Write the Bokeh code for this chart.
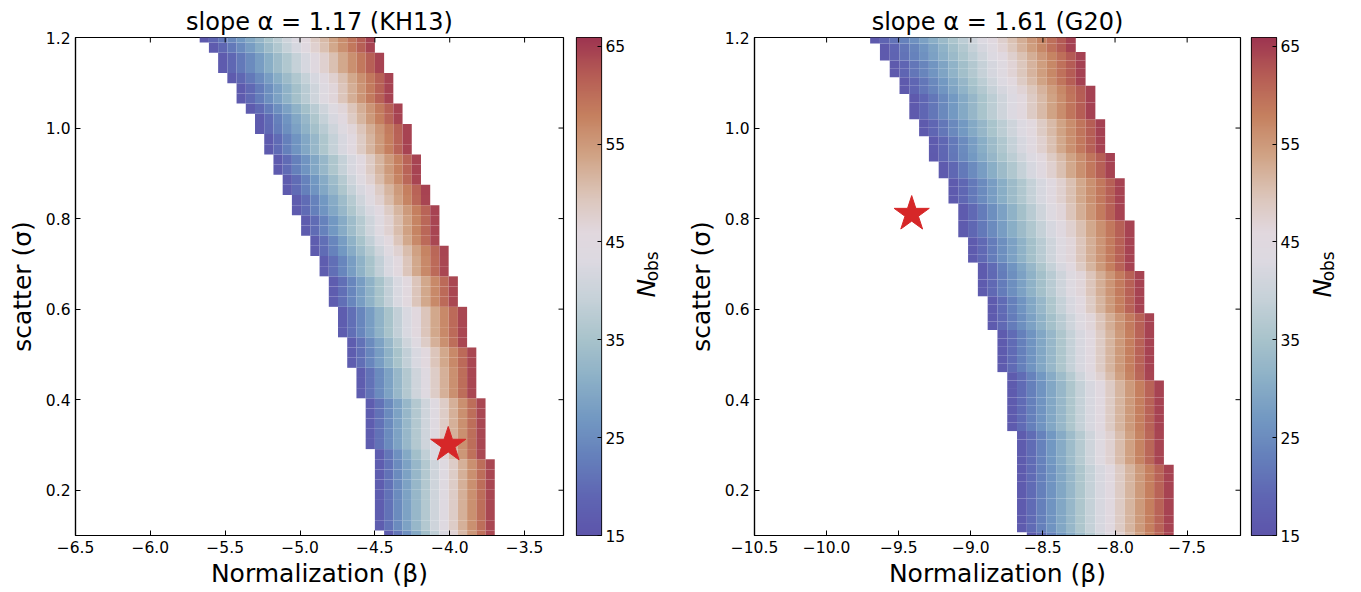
import numpy as np
from bokeh.plotting import figure
from bokeh.layouts import row
from bokeh.models import (Range1d, FixedTicker, LinearColorMapper,
                          ColumnDataSource, CustomJSTickFormatter)
from bokeh.transform import transform
from bokeh.core.properties import value
from bokeh.embed import file_html
from bokeh.resources import INLINE

# ---------------- data ----------------
N_MIN, N_MAX = 15.0, 65.9
cbar_ticks = [15, 25, 35, 45, 55, 65]
y_ticks = [0.2, 0.4, 0.6, 0.8, 1.0, 1.2]
y_lim = (0.1, 1.2)

# colormap anchor colours (N_obs value, colour)
cmap_values = [15, 19, 23, 27, 31, 35, 39, 43, 46, 50, 54, 58, 62, 65.9]
cmap_colors = ["#5d55ab", "#5f66b3", "#6580bb", "#7399c2", "#8cb0c7", "#a8c3cb",
               "#c5d1d8", "#dcd9e1", "#e1d8de", "#dbc3b6", "#d0a284", "#c5805f",
               "#b65d55", "#9e3550"]

# ---- panel 1: slope 1.17 (KH13) ----
kh_title = "slope α = 1.17 (KH13)"
kh_xlim = (-6.5, -3.24)
kh_xticks = [-6.5, -6.0, -5.5, -5.0, -4.5, -4.0, -3.5]
kh_beta_origin = -4.5      # a column boundary
kh_beta_step = 0.0616      # column width
kh_sigma_first = 0.1       # centre of lowest row
kh_sigma_step = 1.1 / 49   # row height
# first / one-past-last column of the filled band for each row (bottom -> top)
kh_lo = [1, 0, 0, 0, 0, 0, 0, 0, 0, -1, -1, -1, -1, -1, -2, -2, -2, -3, -3, -3,
         -4, -4, -4, -5, -5, -5, -6, -6, -7, -7, -8, -8, -9, -9, -10, -10, -11, -11,
         -12, -12, -13, -13, -14, -15, -15, -16, -17, -17, -18, -19]
kh_hi = [13, 13, 13, 13, 13, 13, 13, 13, 12, 12, 12, 12, 12, 12, 11, 11, 11, 11, 11,
         10, 10, 10, 10, 9, 9, 9, 8, 8, 8, 7, 7, 7, 7, 6, 6, 5, 5, 5, 4, 4, 4, 3, 3,
         2, 2, 2, 1, 1, 0, 0]
kh_star_x = [-4.01]
kh_star_y = [0.30]

# ---- panel 2: slope 1.61 (G20) ----
g20_title = "slope α = 1.61 (G20)"
g20_xlim = (-10.5, -7.13)
g20_xticks = [-10.5, -10.0, -9.5, -9.0, -8.5, -8.0, -7.5]
g20_beta_origin = -8.6796
g20_beta_step = 0.0679
g20_sigma_first = 0.098
g20_sigma_step = 0.01861
g20_lo = [1] + [0] * 12 + [-1] * 7 + [-2] * 5 + [-3] * 4 + [-4] * 4 + [-5] * 3 + \
         [-6] * 4 + [-7] * 3 + [-8] * 2 + [-9] * 3 + [-10] * 2 + [-11] * 3 + \
         [-12] * 2 + [-13] * 2 + [-14] * 2 + [-15]
g20_hi = [16] * 9 + [15] * 10 + [14] * 8 + [13] * 5 + [12] * 6 + [11] * 5 + \
         [10] * 3 + [9] * 4 + [8] * 4 + [7] * 4 + [6] * 2
g20_star_x = [-9.41]
g20_star_y = [0.81]

# ---------------- helpers ----------------
def hex2rgb(h):
    h = h.lstrip("#")
    return np.array([int(h[i:i + 2], 16) for i in (0, 2, 4)], dtype=float)

lv = np.linspace(N_MIN, N_MAX, 256)
rgb = np.array([hex2rgb(c) for c in cmap_colors])
pal = []
for v in lv:
    r = np.interp(v, cmap_values, rgb[:, 0])
    g = np.interp(v, cmap_values, rgb[:, 1])
    b = np.interp(v, cmap_values, rgb[:, 2])
    pal.append("#%02x%02x%02x" % (int(round(r)), int(round(g)), int(round(b))))
mapper = LinearColorMapper(palette=pal, low=N_MIN, high=N_MAX)

FONT = "DejaVu Sans"
H = 592
TOP = 37
BOT = 57
TICK = 5
TICK_FONT = "15.5px"

def band_source(origin, step, s_first, s_step, lo, hi):
    L, R, B, T, V = [], [], [], [], []
    for k, (a, b) in enumerate(zip(lo, hi)):
        sc = s_first + k * s_step
        n = b - a
        for c in range(a, b):
            L.append(origin + c * step)
            R.append(origin + (c + 1) * step)
            B.append(sc - s_step / 2)
            T.append(sc + s_step / 2)
            V.append(N_MIN + (N_MAX - N_MIN) * (c - a + 0.5) / n)
    return ColumnDataSource(dict(left=L, right=R, bottom=B, top=T, v=V))

fmt1 = CustomJSTickFormatter(code="return tick.toFixed(1).replace('-', '\u2212');")

def style_axis(ax):
    ax.major_tick_in = TICK
    ax.major_tick_out = 0
    ax.minor_tick_line_color = None
    ax.axis_line_color = "black"
    ax.major_tick_line_color = "black"
    ax.axis_line_width = 1.2
    ax.major_label_text_font = FONT
    ax.major_label_text_color = "black"
    ax.major_label_text_font_size = TICK_FONT
    ax.axis_label_text_font = FONT
    ax.axis_label_text_font_size = "25px"
    ax.axis_label_text_font_style = "normal"
    ax.axis_label_text_color = "black"

def main_fig(title, xlim, xticks, src, sx, sy, mbl, frame_w):
    w = mbl + frame_w + 7
    p = figure(width=w, height=H, x_range=Range1d(*xlim), y_range=Range1d(*y_lim),
               output_backend="svg", toolbar_location=None,
               min_border_left=mbl, min_border_right=7, min_border_top=TOP,
               min_border_bottom=BOT, title=title,
               x_axis_label="Normalization (β)", y_axis_label="scatter (σ)")
    p.title.align = "center"
    p.title.text_font = FONT
    p.title.text_font_size = "24px"
    p.title.text_font_style = "normal"
    p.title.text_color = "black"
    p.title.standoff = 4
    p.xgrid.visible = False
    p.ygrid.visible = False
    p.outline_line_color = "black"
    p.outline_line_width = 1.2
    p.quad(left="left", right="right", bottom="bottom", top="top", source=src,
           fill_color=transform("v", mapper), line_color=None)
    p.scatter(sx, sy, marker="star", size=37, color="#d62728", line_color="#d62728")
    p.xaxis.ticker = FixedTicker(ticks=xticks)
    p.yaxis.ticker = FixedTicker(ticks=y_ticks)
    p.xaxis.formatter = fmt1
    p.yaxis.formatter = fmt1
    style_axis(p.xaxis[0])
    style_axis(p.yaxis[0])
    p.xaxis.major_label_standoff = 5
    p.xaxis.axis_label_standoff = 3
    p.yaxis.major_label_standoff = 5
    p.yaxis.axis_label_standoff = 6
    # inward ticks on the top and right edges (no labels)
    p.ray(x=xticks, y=[y_lim[1]] * len(xticks), length=TICK, length_units="screen",
          angle=-np.pi / 2, line_color="black", line_width=1)
    p.ray(x=[xlim[1]] * len(y_ticks), y=y_ticks, length=TICK, length_units="screen",
          angle=np.pi, line_color="black", line_width=1)
    return p

def cbar_fig(mbl):
    c = figure(width=mbl + 25 + 31, height=H, x_range=Range1d(0, 1),
               y_range=Range1d(N_MIN, N_MAX), output_backend="svg",
               toolbar_location=None, min_border_left=mbl, min_border_right=31,
               min_border_top=TOP, min_border_bottom=BOT,
               x_axis_location=None, y_axis_location="right")
    grad = np.linspace(N_MIN, N_MAX, 256).reshape(-1, 1)
    c.image(image=[grad], x=0, y=N_MIN, dw=1, dh=N_MAX - N_MIN, color_mapper=mapper)
    c.xgrid.visible = False
    c.ygrid.visible = False
    c.outline_line_color = "black"
    c.outline_line_width = 1.2
    c.yaxis.ticker = FixedTicker(ticks=cbar_ticks)
    style_axis(c.yaxis[0])
    c.yaxis.major_tick_in = 4
    c.yaxis.major_label_standoff = 4
    c.yaxis.axis_line_color = None
    return c

def label_fig(width, xc):
    # a bare figure that only holds the rotated colour-bar label N_obs
    t = figure(width=width, height=H, x_range=Range1d(0, width), y_range=Range1d(0, H),
               output_backend="svg", toolbar_location=None, min_border=0,
               x_axis_location=None, y_axis_location=None)
    t.xgrid.visible = False
    t.ygrid.visible = False
    t.outline_line_color = None
    yc = H - 286
    t.text(x=[xc], y=[yc - 12], text=["N"], angle=np.pi / 2,
           text_font=value(FONT), text_font_size="25px", text_font_style="italic",
           text_align="center", text_baseline="middle", text_color="black")
    t.text(x=[xc + 5], y=[yc + 14], text=["obs"], angle=np.pi / 2,
           text_font=value(FONT), text_font_size="17px",
           text_align="center", text_baseline="middle", text_color="black")
    return t

src1 = band_source(kh_beta_origin, kh_beta_step, kh_sigma_first, kh_sigma_step, kh_lo, kh_hi)
src2 = band_source(g20_beta_origin, g20_beta_step, g20_sigma_first, g20_sigma_step, g20_lo, g20_hi)

p1 = main_fig(kh_title, kh_xlim, kh_xticks, src1, kh_star_x, kh_star_y, 75, 488)   # 0..570
c1 = cbar_fig(6)                                                                   # 570..632
t1 = label_fig(51, 14)                                                             # 632..683
p2 = main_fig(g20_title, g20_xlim, g20_xticks, src2, g20_star_x, g20_star_y, 68, 489)  # 683..1247
c2 = cbar_fig(4)                                                                   # 1247..1307
t2 = label_fig(53, 15)                                                             # 1307..1360

layout = row(p1, c1, t1, p2, c2, t2)
open("out.html", "w").write(file_html(layout, INLINE))
